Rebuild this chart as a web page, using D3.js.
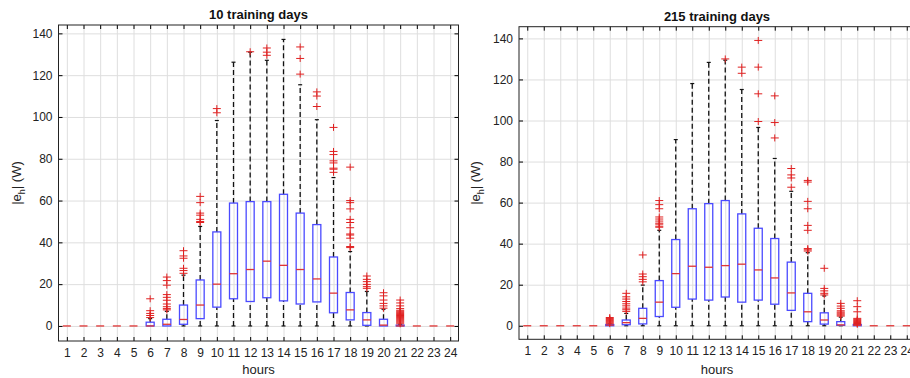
<!DOCTYPE html>
<html>
<head>
<meta charset="utf-8">
<script src="https://cdn.jsdelivr.net/npm/d3@7"></script>
<style>
  body { margin: 0; background: #fff; }
  svg { display: block; font-family: "Liberation Sans", Arial, sans-serif; }
</style>
</head>
<body>
<div id="chart"></div>
<script>
const hours = [1,2,3,4,5,6,7,8,9,10,11,12,13,14,15,16,17,18,19,20,21,22,23,24];
const yTicks = [0, 20, 40, 60, 80, 100, 120, 140];

// 10 training days
const q1Short  = [0,0,0,0,0, 0,0,0.8,3.5,9, 13,11.7,13.5,12,10.5, 11.5,6.3,2.9,0.3,0, 0,0,0,0];
const medShort = [0,0,0,0,0, 0,0.8,3.1,10,20, 25,27,31,29,27, 22.5,15.7,7.7,2.9,0.4, 0,0,0,0];
const q3Short  = [0,0,0,0,0, 1.8,3.2,10,22,45, 58.8,59.5,59.5,63,54, 48.5,33,16,6.4,3.2, 0.4,0,0,0];
const hiShort  = [0,0,0,0,0, 3.5,7,24.3,47.6,98.3, 126.2,131,127.1,137.1,115.4, 98.7,71,35.6,16.5,8, 0.8,0,0,0];
const outShort = [[],[],[],[],[],
  [13,7.3,6,5,4],
  [23.4,21.7,19.5,15,13.7,12.3,10.5,9.2,8.3,7.7],
  [36,33.5,32.4,27.6,26.5,25.2],
  [62,59,54,53,51,50,49.5],
  [104,102],
  [],
  [131.2],
  [133,131,129.5],
  [],
  [133.5,128,120.5],
  [112,110,105],
  [95,83.5,82,79,78,75.5,75,73.5],
  [76,60,59,56,51,49.5,47,44,43.5,42,38,37.5],
  [23.9,22.3,21.2,19.9,18.8,18],
  [15.9,14.4,12.4,10.8,9.6,8.5],
  [12.4,11,9.6,8.3,7.5,7,6.5,6,5.5,5,4.5,4,3.5,3,2.5,2,1.5,1],
  [],[],[]];

// 215 training days
const q1Long  = [0,0,0,0,0, 0,0.5,0.9,4.5,9, 13,12.5,14,11.5,12.5, 10.5,7.5,2,0.8,0.2, 0,0,0,0];
const medLong = [0,0,0,0,0, 0.3,1.5,3.6,11.5,25.4, 29,28.5,29.3,30,27.2, 23.3,16,6.8,2.8,0.4, 0.2,0,0,0];
const q3Long  = [0,0,0,0,0, 0.6,2.8,8.5,22,42, 57,59.5,61,54.5,47.5, 42.5,31,15.8,6.3,2, 0.6,0,0,0];
const hiLong  = [0,0,0,0,0, 0.8,6,19.8,46.5,90.7, 118,128.3,129.4,115.1,96.6, 81.5,65.5,35.6,14.5,4.2, 0.7,0,0,0];
const outLong = [[],[],[],[],[],
  [4,3.5,3,2.5,2,1.5,1],
  [15.8,14.1,13,11.8,10.7,9.7,8.6,7.8,7],
  [34.5,25.2,23.9,22.6,21.4],
  [61,59,57,53,52,51,50,49.5,48.5,48],
  [],
  [],
  [],
  [130],
  [126,123],
  [139,126,113,99.5],
  [112,99,91.5],
  [76.6,73.5,72,67.5],
  [70.8,70,60.6,57,48.9,46.5,37.6,37,36.4],
  [28,18.2,17,15.8,15],
  [10.9,9.6,8.5,7.3,6.7,6.2,5.7,5.2,4.7],
  [12.2,9.3,6.8,3.6,3.1,2.6,2.1,1.6,1.1,0.7],
  [],[],[]];

const W = 910, H = 378;
const svg = d3.select("#chart").append("svg")
  .attr("width", W)
  .attr("height", H);

function drawPanel(p) {
  const x = d3.scaleLinear().domain([0.5, 24.5]).range([p.left, p.right]);
  const y = d3.scaleLinear().domain(p.yDomain).range([p.bottom, p.top]);
  const g = svg.append("g");

  // grid
  g.append("g")
    .attr("transform", "translate(0," + p.bottom + ")")
    .call(d3.axisBottom(x).tickValues(hours).tickSize(-(p.bottom - p.top)).tickFormat(""))
    .call(a => a.select(".domain").remove())
    .selectAll("line").attr("stroke", "#dedede");
  g.append("g")
    .attr("transform", "translate(" + p.left + ",0)")
    .call(d3.axisLeft(y).tickValues(yTicks).tickSize(-(p.right - p.left)).tickFormat(""))
    .call(a => a.select(".domain").remove())
    .selectAll("line").attr("stroke", "#dedede");

  const bw = 8;
  hours.forEach((h, i) => {
    const cx = x(h);
    // whiskers
    if (p.hi[i] > p.q3[i]) {
      g.append("line").attr("x1", cx).attr("x2", cx)
        .attr("y1", y(p.q3[i])).attr("y2", y(p.hi[i]))
        .attr("stroke", "#111").attr("stroke-width", 1.3).attr("stroke-dasharray", "5,3");
      g.append("line").attr("x1", cx - 2).attr("x2", cx + 2)
        .attr("y1", y(p.hi[i])).attr("y2", y(p.hi[i]))
        .attr("stroke", "#111").attr("stroke-width", 1.2);
    }
    if (p.q1[i] > 0) {
      g.append("line").attr("x1", cx).attr("x2", cx)
        .attr("y1", y(0)).attr("y2", y(p.q1[i]))
        .attr("stroke", "#111").attr("stroke-width", 1.3).attr("stroke-dasharray", "5,3");
      g.append("line").attr("x1", cx - 2).attr("x2", cx + 2)
        .attr("y1", y(0)).attr("y2", y(0))
        .attr("stroke", "#111").attr("stroke-width", 1.2);
    }
    // box
    g.append("rect")
      .attr("x", cx - bw / 2).attr("width", bw)
      .attr("y", y(p.q3[i])).attr("height", y(p.q1[i]) - y(p.q3[i]))
      .attr("fill", "none").attr("stroke", "#4a4aff").attr("stroke-width", 1.3);
    // median
    g.append("line").attr("x1", cx - bw / 2).attr("x2", cx + bw / 2)
      .attr("y1", y(p.med[i])).attr("y2", y(p.med[i]))
      .attr("stroke", "#e03434").attr("stroke-width", 1.3);
    // outliers
    p.out[i].forEach(v => {
      g.append("path")
        .attr("d", "M" + (cx - 4) + "," + y(v) + "h8M" + cx + "," + (y(v) - 3.5) + "v7")
        .attr("stroke", "#e02020").attr("stroke-width", 1).attr("fill", "none");
    });
  });

  // axes with inward ticks
  const tk = 4;
  g.append("g").attr("transform", "translate(0," + p.bottom + ")")
    .call(d3.axisBottom(x).tickValues(hours).tickSize(-tk).tickPadding(7).tickSizeOuter(0))
    .call(a => a.select(".domain").remove())
    .call(a => a.selectAll("text").attr("font-size", 12).attr("fill", "#222").attr("font-family", null));
  g.append("g").attr("transform", "translate(0," + p.top + ")")
    .call(d3.axisTop(x).tickValues(hours).tickSize(-tk).tickFormat("").tickSizeOuter(0))
    .call(a => a.select(".domain").remove());
  g.append("g").attr("transform", "translate(" + p.left + ",0)")
    .call(d3.axisLeft(y).tickValues(yTicks).tickSize(-tk).tickPadding(6).tickSizeOuter(0))
    .call(a => a.select(".domain").remove())
    .call(a => a.selectAll("text").attr("font-size", 12).attr("fill", "#222").attr("font-family", null));
  g.append("g").attr("transform", "translate(" + p.right + ",0)")
    .call(d3.axisRight(y).tickValues(yTicks).tickSize(-tk).tickFormat("").tickSizeOuter(0))
    .call(a => a.select(".domain").remove());

  g.append("rect")
    .attr("x", p.left).attr("y", p.top)
    .attr("width", p.right - p.left).attr("height", p.bottom - p.top)
    .attr("fill", "none").attr("stroke", "#222").attr("stroke-width", 1);

  svg.append("text")
    .attr("x", (p.left + p.right) / 2).attr("y", p.top - 6)
    .attr("text-anchor", "middle").attr("font-size", 13).attr("font-weight", "bold")
    .attr("fill", "#111")
    .text(p.title);
  svg.append("text")
    .attr("x", (p.left + p.right) / 2).attr("y", 374)
    .attr("text-anchor", "middle").attr("font-size", 13).attr("fill", "#222")
    .text("hours");
  const yl = svg.append("text")
    .attr("transform", "translate(" + p.ylabelX + "," + ((p.top + p.bottom) / 2) + ") rotate(-90)")
    .attr("text-anchor", "middle").attr("font-size", 13).attr("fill", "#222");
  yl.append("tspan").text("|e");
  yl.append("tspan").attr("font-size", 9).attr("dy", 4).text("h");
  yl.append("tspan").attr("dy", -4).text("| (W)");
}

drawPanel({
  title: "10 training days",
  left: 58.5, right: 458.5, top: 25, bottom: 341,
  yDomain: [-7.2, 144], ylabelX: 21,
  q1: q1Short, med: medShort, q3: q3Short, hi: hiShort, out: outShort
});
drawPanel({
  title: "215 training days",
  left: 519, right: 915, top: 26.7, bottom: 339.3,
  yDomain: [-6.6, 145.7], ylabelX: 480,
  q1: q1Long, med: medLong, q3: q3Long, hi: hiLong, out: outLong
});
</script>
</body>
</html>
